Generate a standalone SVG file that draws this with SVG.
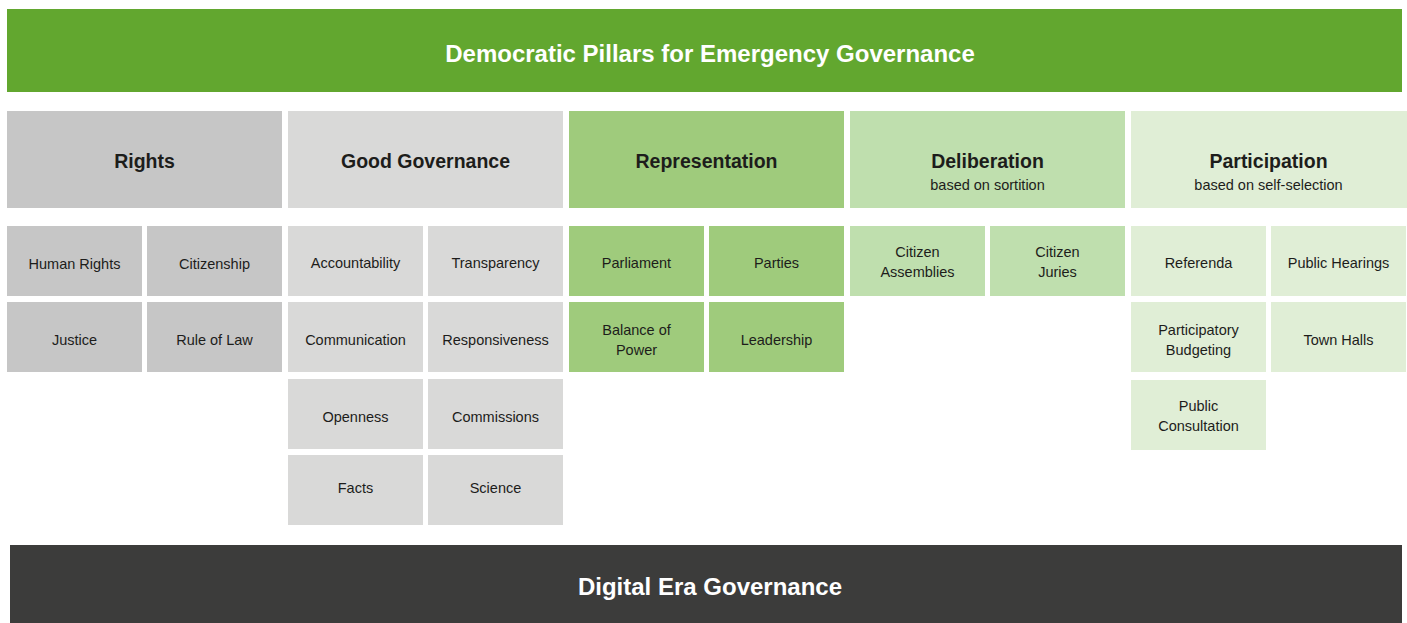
<svg xmlns="http://www.w3.org/2000/svg" width="1407" height="623" viewBox="0 0 1407 623">
<style>
text{font-family:"Liberation Sans",Arial,sans-serif;text-anchor:middle;fill:#1d1d1b}
.banner{font-size:24px;font-weight:bold;fill:#ffffff}
.hd{font-size:19.5px;font-weight:bold}
.sub{font-size:14.5px}
.lb{font-size:14.5px}
.c1{fill:#c6c6c6}.c2{fill:#d9d9d8}.c3{fill:#9fcb7c}.c4{fill:#bfdfae}.c5{fill:#e0eed6}
</style>
<rect width="1407" height="623" fill="#ffffff"/>
<g id="title"><rect x="7" y="9" width="1395" height="83" fill="#62a72f"/><text class="banner" x="710" y="62">Democratic Pillars for Emergency Governance</text></g>
<g id="rights"><rect class="c1" x="7" y="111" width="275" height="97"/><text class="hd" x="144.5" y="168">Rights</text></g>
<g id="goodgov"><rect class="c2" x="288" y="111" width="275" height="97"/><text class="hd" x="425.5" y="168">Good Governance</text></g>
<g id="representation"><rect class="c3" x="569" y="111" width="275" height="97"/><text class="hd" x="706.5" y="168">Representation</text></g>
<g id="deliberation"><rect class="c4" x="850" y="111" width="275" height="97"/><text class="hd" x="987.5" y="168">Deliberation</text><text class="sub" x="987.5" y="190">based on sortition</text></g>
<g id="participation"><rect class="c5" x="1131" y="111" width="276" height="97"/><text class="hd" x="1268.5" y="168">Participation</text><text class="sub" x="1268.5" y="190">based on self-selection</text></g>

<g id="human-rights"><rect class="c1" x="7" y="226" width="135" height="70"/><text class="lb" x="74.5" y="269">Human Rights</text></g>
<g id="citizenship"><rect class="c1" x="147" y="226" width="135" height="70"/><text class="lb" x="214.5" y="269">Citizenship</text></g>
<g id="justice"><rect class="c1" x="7" y="302" width="135" height="70"/><text class="lb" x="74.5" y="345">Justice</text></g>
<g id="rule-of-law"><rect class="c1" x="147" y="302" width="135" height="70"/><text class="lb" x="214.5" y="345">Rule of Law</text></g>

<g id="accountability"><rect class="c2" x="288" y="226" width="135" height="70"/><text class="lb" x="355.5" y="268">Accountability</text></g>
<g id="transparency"><rect class="c2" x="428" y="226" width="135" height="70"/><text class="lb" x="495.5" y="268">Transparency</text></g>
<g id="communication"><rect class="c2" x="288" y="302" width="135" height="70"/><text class="lb" x="355.5" y="345">Communication</text></g>
<g id="responsiveness"><rect class="c2" x="428" y="302" width="135" height="70"/><text class="lb" x="495.5" y="345">Responsiveness</text></g>
<g id="openness"><rect class="c2" x="288" y="379" width="135" height="70"/><text class="lb" x="355.5" y="422">Openness</text></g>
<g id="commissions"><rect class="c2" x="428" y="379" width="135" height="70"/><text class="lb" x="495.5" y="422">Commissions</text></g>
<g id="facts"><rect class="c2" x="288" y="455" width="135" height="70"/><text class="lb" x="355.5" y="493">Facts</text></g>
<g id="science"><rect class="c2" x="428" y="455" width="135" height="70"/><text class="lb" x="495.5" y="493">Science</text></g>

<g id="parliament"><rect class="c3" x="569" y="226" width="135" height="70"/><text class="lb" x="636.5" y="268">Parliament</text></g>
<g id="parties"><rect class="c3" x="709" y="226" width="135" height="70"/><text class="lb" x="776.5" y="268">Parties</text></g>
<g id="balance-of-power"><rect class="c3" x="569" y="302" width="135" height="70"/><text class="lb" x="636.5" y="335">Balance of</text><text class="lb" x="636.5" y="355">Power</text></g>
<g id="leadership"><rect class="c3" x="709" y="302" width="135" height="70"/><text class="lb" x="776.5" y="345">Leadership</text></g>

<g id="citizen-assemblies"><rect class="c4" x="850" y="226" width="135" height="70"/><text class="lb" x="917.5" y="257">Citizen</text><text class="lb" x="917.5" y="277">Assemblies</text></g>
<g id="citizen-juries"><rect class="c4" x="990" y="226" width="135" height="70"/><text class="lb" x="1057.5" y="257">Citizen</text><text class="lb" x="1057.5" y="277">Juries</text></g>

<g id="referenda"><rect class="c5" x="1131" y="226" width="135" height="70"/><text class="lb" x="1198.5" y="268">Referenda</text></g>
<g id="public-hearings"><rect class="c5" x="1271" y="226" width="135" height="70"/><text class="lb" x="1338.5" y="268">Public Hearings</text></g>
<g id="participatory-budgeting"><rect class="c5" x="1131" y="302" width="135" height="70"/><text class="lb" x="1198.5" y="335">Participatory</text><text class="lb" x="1198.5" y="355">Budgeting</text></g>
<g id="town-halls"><rect class="c5" x="1271" y="302" width="135" height="70"/><text class="lb" x="1338.5" y="345">Town Halls</text></g>
<g id="public-consultation"><rect class="c5" x="1131" y="380" width="135" height="70"/><text class="lb" x="1198.5" y="411">Public</text><text class="lb" x="1198.5" y="431">Consultation</text></g>

<g id="digital-era"><rect x="10" y="545" width="1392" height="78" fill="#3c3c3b"/><text class="banner" x="710" y="595">Digital Era Governance</text></g>
<g id="connectors"></g>
</svg>
